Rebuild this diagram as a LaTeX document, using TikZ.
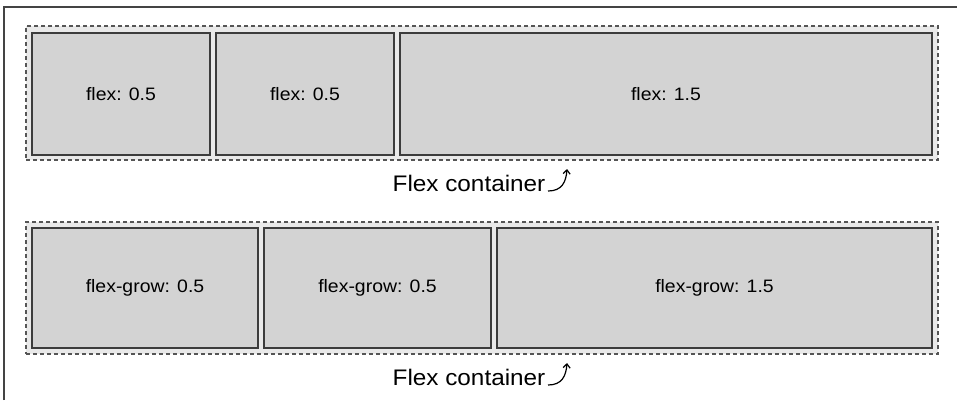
\documentclass[tikz,border=0pt]{standalone}
\usepackage{fontspec}
\setmainfont{Liberation Sans}
\newfontfamily\lblfont[FakeStretch=1.08]{Liberation Sans}
\usetikzlibrary{arrows.meta}
\definecolor{boxfill}{HTML}{D3D3D3}
\definecolor{boxline}{HTML}{3C3C3C}
\definecolor{contfill}{HTML}{E9E9E9}
\definecolor{contline}{HTML}{555555}
\definecolor{frameline}{HTML}{444444}
\begin{document}
\begin{tikzpicture}[x=1pt,y=-1pt,
  frame/.style={draw=frameline,line width=1.2pt},
  container/.style={draw=contline,fill=contfill,line width=1.2pt,dash pattern=on 4pt off 3pt,inner sep=0pt,outer sep=0pt},
  flexbox/.style={draw=boxline,fill=boxfill,line width=1.5pt,inner sep=0pt,outer sep=0pt,font=\lblfont\fontsize{18}{20}\selectfont},
  clabel/.style={inner sep=0pt,font=\lblfont\fontsize{22.5}{24}\selectfont},
  arr/.style={draw=black,line width=1.2pt,-{Straight Barb[length=4pt,width=7pt]}}]
\useasboundingbox (0,0) rectangle (957,400);
\draw[frame] (4,400) -- (4,7) -- (957,7);
% row 1
\node[container,minimum width=912pt,minimum height=134pt] (c1) at (482,93) {};
\node[flexbox,minimum width=178pt,minimum height=122pt] (b11) at (121,94) {flex: 0.5};
\node[flexbox,minimum width=178pt,minimum height=122pt] (b12) at (305,94) {flex: 0.5};
\node[flexbox,minimum width=532pt,minimum height=122pt] (b13) at (666,94) {flex: 1.5};
\node[clabel] (l1) at (469,183) {Flex container};
\coordinate (a1s) at (548,191);
\coordinate (a1e) at (567,169);
\draw[arr] (a1s) .. controls (562,191) and (566,182) .. (a1e);
% row 2
\node[container,minimum width=912pt,minimum height=132pt] (c2) at (482,288) {};
\node[flexbox,minimum width=226pt,minimum height=120pt] (b21) at (145,288) {flex-grow: 0.5};
\node[flexbox,minimum width=227pt,minimum height=120pt] (b22) at (377.5,288) {flex-grow: 0.5};
\node[flexbox,minimum width=435pt,minimum height=120pt] (b23) at (714.5,288) {flex-grow: 1.5};
\node[clabel] (l2) at (469,377) {Flex container};
\coordinate (a2s) at (548,385);
\coordinate (a2e) at (567,363);
\draw[arr] (a2s) .. controls (562,385) and (566,376) .. (a2e);
\end{tikzpicture}
\end{document}
